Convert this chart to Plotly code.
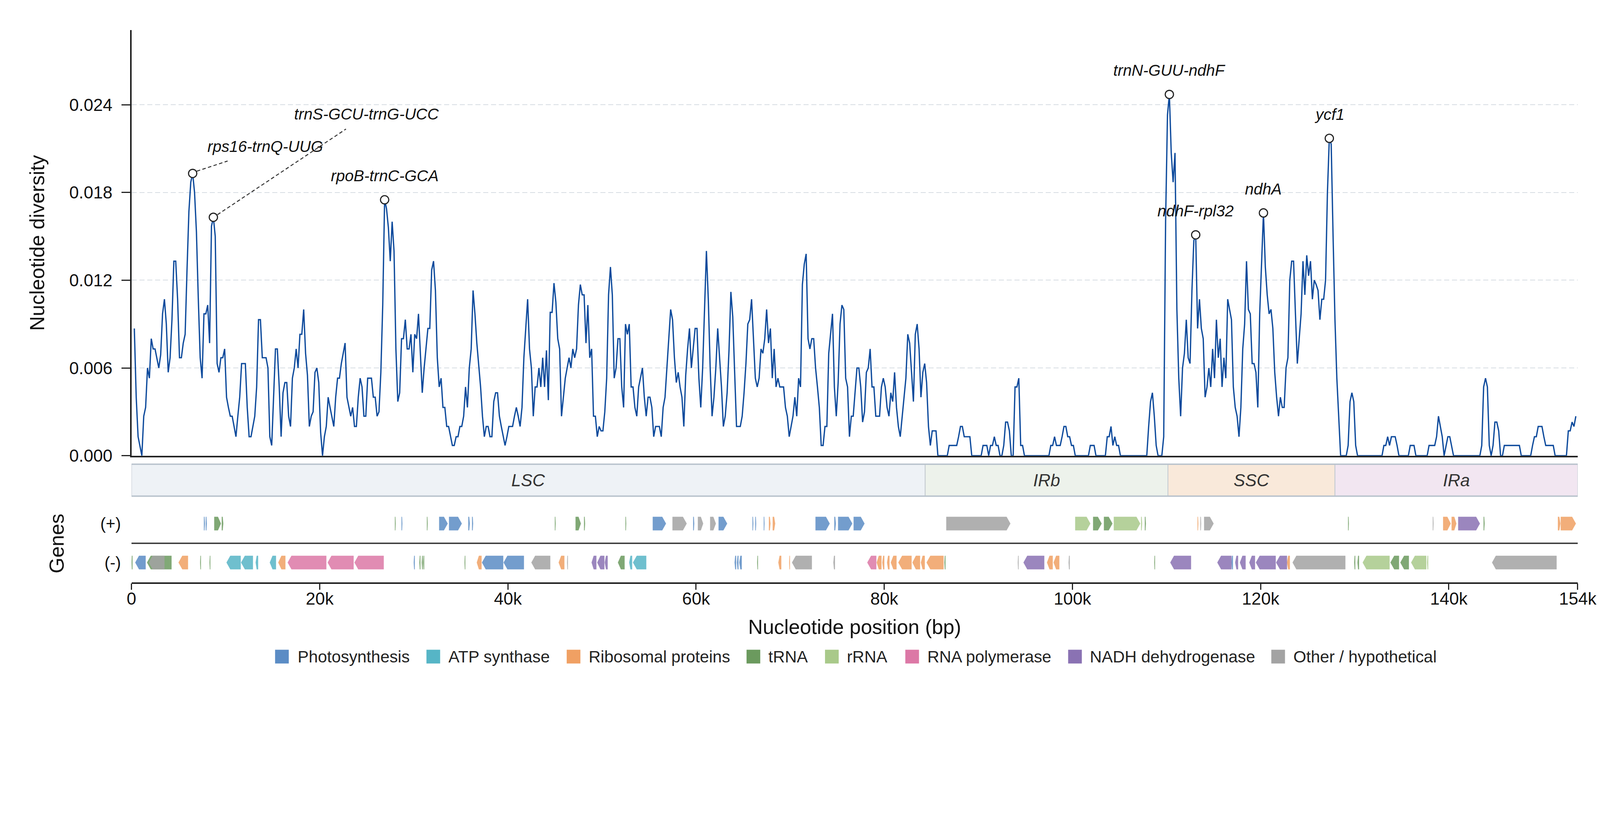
import numpy as np
import plotly.graph_objects as go

# ---- sliding-window nucleotide diversity (window midpoints every 200 bp, first at 300 bp)
genome_length = 153700
first_mid = 300
window_step = 200

pi_values = [
    0.0087, 0.004, 0.0013, 0.0007, 0, 0.0027, 0.0033, 0.006, 0.0053, 0.008,
    0.0073, 0.0073, 0.0067, 0.006, 0.0069, 0.0097, 0.0107, 0.009, 0.0057, 0.0067,
    0.0093, 0.0133, 0.0133, 0.0107, 0.0067, 0.0067, 0.0077, 0.0083, 0.0127, 0.0167,
    0.0187, 0.0193, 0.018, 0.0153, 0.0107, 0.0067, 0.0053, 0.0097, 0.0097, 0.0103,
    0.0077, 0.0157, 0.0163, 0.015, 0.0063, 0.0057, 0.0067, 0.0067, 0.0073, 0.004,
    0.0033, 0.0027, 0.0027, 0.002, 0.0013, 0.0027, 0.004, 0.0063, 0.0063, 0.0063,
    0.0033, 0.0013, 0.0013, 0.002, 0.0027, 0.0047, 0.0093, 0.0093, 0.0067, 0.0067,
    0.0067, 0.006, 0.0013, 0.0007, 0.004, 0.0073, 0.0073, 0.0047, 0.0013, 0.0043,
    0.005, 0.005, 0.0027, 0.002, 0.0053, 0.006, 0.0073, 0.006, 0.0083, 0.0083,
    0.01, 0.007, 0.0055, 0.002, 0.0027, 0.003, 0.0057, 0.006, 0.005, 0.0016,
    0, 0.0013, 0.002, 0.004, 0.0033, 0.0027, 0.002, 0.004, 0.0053, 0.0053,
    0.0063, 0.007, 0.0077, 0.004, 0.0033, 0.0027, 0.0033, 0.002, 0.002, 0.004,
    0.0053, 0.0047, 0.0027, 0.0027, 0.0053, 0.0053, 0.0053, 0.004, 0.004, 0.0027,
    0.003, 0.0057, 0.0103, 0.0175, 0.0169, 0.0156, 0.0133, 0.016, 0.014, 0.0073,
    0.0037, 0.0043, 0.008, 0.008, 0.0093, 0.0073, 0.0073, 0.0083, 0.0057, 0.0083,
    0.008, 0.0097, 0.007, 0.0043, 0.006, 0.0073, 0.0087, 0.0087, 0.0127, 0.0133,
    0.0113, 0.0067, 0.0047, 0.0053, 0.0033, 0.0033, 0.002, 0.002, 0.0013, 0.0007,
    0.0007, 0.0013, 0.0013, 0.002, 0.002, 0.0027, 0.0047, 0.0033, 0.006, 0.0073,
    0.0113, 0.0097, 0.0077, 0.0063, 0.0047, 0.0027, 0.0013, 0.002, 0.002, 0.0013,
    0.0013, 0.0037, 0.0043, 0.0043, 0.0027, 0.002, 0.0013, 0.0007, 0.0013, 0.002,
    0.002, 0.002, 0.0027, 0.0033, 0.0027, 0.002, 0.0033, 0.0067, 0.0087, 0.0107,
    0.0073, 0.006, 0.0027, 0.0047, 0.0047, 0.006, 0.0047, 0.0067, 0.0047, 0.0072,
    0.0038, 0.0098, 0.0098, 0.0118, 0.0105, 0.008, 0.0073, 0.0027, 0.004, 0.0053,
    0.006, 0.0067, 0.006, 0.0073, 0.0067, 0.0073, 0.0103, 0.0117, 0.011, 0.011,
    0.0077, 0.0103, 0.0067, 0.0073, 0.0027, 0.0027, 0.0013, 0.002, 0.0017, 0.0017,
    0.003, 0.0053, 0.011, 0.0129, 0.011, 0.0053, 0.006, 0.008, 0.008, 0.0047,
    0.0033, 0.009, 0.0083, 0.009, 0.0047, 0.0047, 0.0033, 0.0027, 0.0047, 0.0053,
    0.006, 0.004, 0.0027, 0.004, 0.004, 0.0033, 0.0013, 0.002, 0.002, 0.002,
    0.0013, 0.0033, 0.004, 0.006, 0.008, 0.01, 0.0093, 0.0067, 0.005, 0.0057,
    0.0047, 0.004, 0.002, 0.0055, 0.0073, 0.0087, 0.006, 0.0073, 0.0087, 0.0087,
    0.0053, 0.0033, 0.006, 0.01, 0.014, 0.0107, 0.006, 0.0027, 0.004, 0.006,
    0.0087, 0.0067, 0.0047, 0.002, 0.0027, 0.0043, 0.0072, 0.0112, 0.0095, 0.0057,
    0.002, 0.002, 0.002, 0.0027, 0.0043, 0.0063, 0.009, 0.0093, 0.0107, 0.008,
    0.0053, 0.0047, 0.0053, 0.0073, 0.007, 0.008, 0.01, 0.0077, 0.0087, 0.0053,
    0.0073, 0.0047, 0.0053, 0.0047, 0.0047, 0.0047, 0.0033, 0.0027, 0.0013, 0.002,
    0.0027, 0.004, 0.0027, 0.0053, 0.0047, 0.0117, 0.0131, 0.0138, 0.008, 0.0073,
    0.008, 0.008, 0.006, 0.0047, 0.0033, 0.0007, 0.0007, 0.002, 0.002, 0.007,
    0.0083, 0.0097, 0.0047, 0.0027, 0.005, 0.009, 0.0103, 0.01, 0.0053, 0.0047,
    0.0013, 0.0027, 0.0027, 0.0043, 0.006, 0.006, 0.0047, 0.0023, 0.003, 0.0057,
    0.006, 0.0073, 0.0047, 0.0047, 0.0027, 0.0027, 0.0027, 0.0047, 0.0053, 0.0047,
    0.0033, 0.0027, 0.0043, 0.0037, 0.0057, 0.0033, 0.002, 0.0013, 0.0027, 0.004,
    0.0053, 0.0083, 0.0077, 0.0057, 0.0037, 0.0083, 0.009, 0.0073, 0.004, 0.0057,
    0.0063, 0.005, 0.002, 0.0007, 0.0017, 0.0017, 0.0017, 0, 0, 0,
    0, 0, 0, 0.0007, 0.0007, 0.0007, 0.0007, 0.0007, 0.0013, 0.002,
    0.002, 0.0013, 0.0013, 0.0013, 0.0013, 0, 0, 0, 0, 0,
    0, 0.0007, 0.0007, 0.0007, 0, 0.0007, 0.0007, 0.0013, 0.0007, 0.0007,
    0, 0, 0.0007, 0.0023, 0.0023, 0.0017, 0, 0, 0.0047, 0.0047,
    0.0053, 0.0007, 0.0007, 0, 0, 0, 0, 0, 0, 0,
    0, 0, 0, 0, 0, 0, 0, 0.0007, 0.0007, 0.0013,
    0.0007, 0.0007, 0.0007, 0.0013, 0.002, 0.002, 0.0013, 0.0013, 0.0007, 0.0007,
    0, 0, 0, 0, 0, 0, 0, 0, 0.0007, 0.0007,
    0.0007, 0, 0, 0, 0, 0, 0, 0.0013, 0.0013, 0.002,
    0.0007, 0.0013, 0.0007, 0.0007, 0, 0, 0, 0, 0, 0,
    0, 0, 0, 0, 0, 0, 0, 0, 0, 0.002,
    0.0037, 0.0043, 0.0027, 0.0007, 0, 0, 0, 0.0013, 0.016, 0.0233,
    0.0247, 0.0207, 0.0187, 0.0207, 0.01, 0.0053, 0.0027, 0.006, 0.007, 0.0093,
    0.0067, 0.0063, 0.0113, 0.0147, 0.0151, 0.0087, 0.0107, 0.0087, 0.008, 0.004,
    0.0047, 0.006, 0.0047, 0.0073, 0.0053, 0.0093, 0.0067, 0.008, 0.0047, 0.0067,
    0.0053, 0.0107, 0.01, 0.0093, 0.0047, 0.0033, 0.0027, 0.0013, 0.0033, 0.0073,
    0.009, 0.0133, 0.01, 0.0097, 0.0063, 0.0063, 0.0057, 0.0033, 0.0097, 0.0129,
    0.0166, 0.0129, 0.011, 0.0097, 0.01, 0.0087, 0.0057, 0.004, 0.0027, 0.004,
    0.0033, 0.0033, 0.006, 0.0067, 0.012, 0.0133, 0.0133, 0.0097, 0.0063, 0.008,
    0.0097, 0.0133, 0.011, 0.0137, 0.0123, 0.0133, 0.0107, 0.012, 0.0117, 0.0113,
    0.0093, 0.0107, 0.0107, 0.012, 0.018, 0.0217, 0.0213, 0.015, 0.0093, 0.0053,
    0.0027, 0, 0, 0, 0, 0.0007, 0.0037, 0.0043, 0.0037, 0.0007,
    0, 0, 0, 0, 0, 0, 0, 0, 0, 0,
    0, 0, 0, 0, 0.0007, 0.0007, 0.0013, 0.0007, 0.0013, 0.0013,
    0.0013, 0.0007, 0, 0, 0, 0, 0, 0, 0.0007, 0.0007,
    0.0007, 0, 0, 0, 0, 0, 0, 0, 0.0007, 0.0007,
    0.0007, 0.0007, 0.0013, 0.0027, 0.002, 0.0013, 0, 0.0007, 0.0013, 0.0013,
    0.0007, 0, 0, 0, 0, 0, 0, 0, 0, 0,
    0, 0, 0, 0, 0, 0, 0.0007, 0.0047, 0.0053, 0.0047,
    0.0007, 0, 0.0007, 0.0023, 0.0023, 0.0017, 0, 0, 0.0007, 0.0007,
    0.0007, 0.0007, 0.0007, 0.0007, 0.0007, 0.0007, 0.0007, 0, 0, 0,
    0, 0, 0, 0.0007, 0.0013, 0.0013, 0.002, 0.002, 0.002, 0.0013,
    0.0007, 0.0007, 0.0007, 0.0007, 0.0007, 0, 0, 0, 0, 0,
    0, 0, 0.0017, 0.0017, 0.0023, 0.002, 0.0027,
]
positions = first_mid + window_step * np.arange(len(pi_values))

# ---- highlighted hotspots
peak_labels = ["rps16-trnQ-UUG", "trnS-GCU-trnG-UCC", "rpoB-trnC-GCA",
               "trnN-GUU-ndhF", "ndhF-rpl32", "ndhA", "ycf1"]
peak_positions = [6500, 8700, 26900, 110300, 113100, 120300, 127300]

# ---- genome regions
region_names = ["LSC", "IRb", "SSC", "IRa"]
region_starts = [0, 84350, 110150, 127900]
region_ends = [84350, 110150, 127900, 153700]

# ---- genes (start kb, end kb, functional group)
plus_genes = [
    (7.7, 7.8, "photo"), (7.9, 8.0, "photo"), (8.8, 9.5, "trna"), (9.6, 9.75, "trna"),
    (28.0, 28.07, "trna"), (28.7, 28.78, "photo"), (31.4, 31.47, "trna"),
    (32.7, 33.6, "photo"), (33.75, 35.1, "photo"), (35.8, 35.95, "photo"), (36.2, 36.3, "photo"),
    (45.0, 45.07, "trna"), (47.2, 47.75, "trna"), (48.1, 48.2, "trna"), (52.5, 52.57, "trna"),
    (55.4, 56.8, "photo"), (57.5, 59.0, "other"), (59.7, 59.8, "photo"), (60.2, 60.75, "other"),
    (61.5, 62.1, "other"), (62.4, 63.3, "photo"),
    (66.0, 66.08, "photo"), (66.3, 66.38, "photo"), (67.2, 67.27, "photo"),
    (67.75, 67.9, "ribo"), (68.15, 68.4, "ribo"),
    (72.7, 74.2, "photo"), (74.7, 74.85, "photo"), (75.1, 76.6, "photo"), (76.75, 77.9, "photo"),
    (86.6, 93.4, "other"),
    (100.3, 101.9, "rrna"), (102.2, 103.1, "trna"), (103.35, 104.25, "trna"),
    (104.4, 107.2, "rrna"), (107.3, 107.4, "rrna"), (107.7, 107.8, "trna"),
    (113.3, 113.37, "ribo"), (113.6, 113.67, "other"), (114.0, 115.0, "other"),
    (129.3, 129.37, "trna"),
    (138.3, 138.37, "other"), (139.4, 140.2, "ribo"), (140.3, 140.8, "ribo"),
    (141.0, 143.3, "ndh"), (143.7, 143.8, "trna"),
    (151.6, 151.85, "ribo"), (151.9, 153.5, "ribo"),
]
minus_genes = [
    (0.0, 0.1, "trna"), (0.4, 1.5, "photo"), (1.65, 4.25, "trna"), (1.85, 3.5, "other"),
    (5.0, 6.0, "ribo"), (7.3, 7.37, "trna"), (8.3, 8.37, "trna"),
    (10.1, 11.6, "atp"), (11.65, 12.9, "atp"), (13.2, 13.45, "atp"),
    (14.7, 15.35, "atp"), (15.6, 16.35, "ribo"),
    (16.6, 20.7, "rnap"), (20.85, 23.6, "rnap"), (23.7, 26.8, "rnap"),
    (30.0, 30.1, "photo"), (30.6, 30.7, "trna"), (30.85, 30.95, "trna"), (31.0, 31.1, "trna"),
    (35.4, 35.47, "trna"), (36.7, 37.2, "ribo"), (37.25, 39.5, "photo"), (39.55, 41.7, "photo"),
    (42.5, 44.5, "other"), (45.4, 46.0, "ribo"), (46.3, 46.37, "other"),
    (48.9, 49.4, "ndh"), (49.5, 50.25, "ndh"), (50.3, 50.6, "ndh"),
    (51.7, 52.4, "trna"), (52.9, 53.2, "atp"), (53.3, 54.7, "atp"),
    (64.1, 64.25, "photo"), (64.35, 64.5, "photo"), (64.6, 64.85, "photo"),
    (66.5, 66.57, "trna"), (68.75, 69.05, "ribo"), (69.9, 69.97, "ribo"),
    (70.2, 72.3, "other"), (74.6, 74.75, "other"),
    (78.2, 79.15, "rnap"), (79.2, 79.7, "ribo"), (79.8, 80.0, "ribo"), (80.3, 80.55, "ribo"),
    (80.7, 81.3, "ribo"), (81.5, 82.9, "ribo"), (83.0, 83.8, "ribo"), (83.9, 84.3, "ribo"),
    (84.5, 86.3, "ribo"), (86.4, 86.5, "trna"),
    (94.2, 94.27, "other"), (94.8, 97.0, "ndh"), (97.3, 97.9, "ribo"), (98.0, 98.6, "ribo"),
    (99.6, 99.7, "other"), (108.7, 108.77, "trna"), (110.4, 112.6, "ndh"),
    (115.4, 116.9, "ndh"), (116.9, 117.05, "photo"), (117.3, 117.6, "ndh"), (117.8, 118.4, "ndh"),
    (118.8, 119.4, "ndh"), (119.5, 121.6, "ndh"), (121.65, 122.8, "ndh"), (122.8, 123.1, "ribo"),
    (123.4, 129.0, "other"),
    (129.95, 130.05, "trna"), (130.3, 130.45, "trna"), (130.85, 133.7, "rrna"),
    (133.8, 134.7, "trna"), (134.85, 135.75, "trna"), (136.0, 137.6, "rrna"), (137.7, 137.8, "rrna"),
    (144.6, 151.45, "other"),
]

group_keys = ["photo", "atp", "ribo", "trna", "rrna", "rnap", "ndh", "other"]
group_names = ["Photosynthesis", "ATP synthase", "Ribosomal proteins", "tRNA", "rRNA",
               "RNA polymerase", "NADH dehydrogenase", "Other / hypothetical"]
group_colors = ["#5b8cc5", "#56b5c6", "#f0a063", "#6b9a5e", "#a9c98a", "#dc78a6", "#8a72b3", "#a3a3a3"]

# ---- page geometry: positions are measured on the 4322 x 2102 screenshot,
# the page renders slightly zoomed and offset, so map them back
S = 1 / 1.04
OFFX, OFFY = 19, 8
W, H = 4140, 2005


def fx(p):
    return (p * S - OFFX) / W


def fy(p):
    return 1 - (p * S - OFFY) / H


def sz(v):
    return v * S


FONT = "Liberation Sans, Arial, sans-serif"
LINE_BLUE = "#0d4a9c"
AX = "#222222"
ymax = 0.0291

fig = go.Figure()

# diversity curve
fig.add_trace(go.Scatter(x=positions, y=pi_values, mode="lines",
                         line=dict(color=LINE_BLUE, width=3.3),
                         showlegend=False, hoverinfo="skip"))

# hotspot markers
peak_y = [pi_values[(p - first_mid) // window_step] for p in peak_positions]
fig.add_trace(go.Scatter(x=peak_positions, y=peak_y, mode="markers",
                         marker=dict(size=sz(22), color="white", line=dict(color=AX, width=sz(3))),
                         showlegend=False, hoverinfo="skip"))

label_shift = {"rps16-trnQ-UUG": (193, 72), "trnS-GCU-trnG-UCC": (408, 275)}
leaders = {"rps16-trnQ-UUG": (11, 6, 93, 33), "trnS-GCU-trnG-UCC": (11, 7, 353, 235)}
for lab, xp, yp in zip(peak_labels, peak_positions, peak_y):
    dx, dy = label_shift.get(lab, (0, 64))
    fig.add_annotation(x=xp, y=yp, xref="x", yref="y", text="<i>%s</i>" % lab,
                       showarrow=False, xshift=sz(dx), yshift=sz(dy),
                       font=dict(family=FONT, size=sz(42), color="#111"))
    if lab in leaders:
        a, b, c, d = leaders[lab]
        fig.add_shape(type="line", xref="x", yref="y",
                      xsizemode="pixel", ysizemode="pixel",
                      xanchor=xp, yanchor=yp, x0=sz(a), x1=sz(c), y0=sz(b), y1=sz(d),
                      line=dict(color="#333", width=2.5, dash="9px,6px"))

# small cap tick at the top of the y axis
fig.add_shape(type="line", xref="x", yref="y", xsizemode="pixel", xanchor=0,
              x0=-sz(23), x1=0, y0=ymax, y1=ymax, line=dict(color=AX, width=3.5))

# region band
band_y0, band_y1 = fy(1337), fy(1251)
region_fill = ["#eef2f6", "#edf2eb", "#f9e9da", "#f2e6f1"]
for name, s, e, col in zip(region_names, region_starts, region_ends, region_fill):
    fig.add_shape(type="rect", xref="x", yref="paper", x0=s, x1=e, y0=band_y0, y1=band_y1,
                  fillcolor=col, line=dict(color="#c3cad1", width=2), layer="below")
    fig.add_annotation(x=(s + e) / 2, y=(band_y0 + band_y1) / 2, xref="x", yref="paper",
                       text="<i>%s</i>" % name, showarrow=False,
                       font=dict(family=FONT, size=sz(46), color="#333"))
for yy in (band_y0, band_y1):
    fig.add_shape(type="line", xref="x", yref="paper", x0=0, x1=genome_length, y0=yy, y1=yy,
                  line=dict(color="#b8c2cc", width=3.5))

# gene track
half_h = 0.345


def arrow(s, e, yc, strand):
    s, e = s * 1000, e * 1000
    head = min(400, 0.45 * (e - s))
    if strand > 0:
        xs = [s, e - head, e, e - head, s, s]
    else:
        xs = [e, s + head, s, s + head, e, e]
    ys = [yc - half_h, yc - half_h, yc, yc + half_h, yc + half_h, yc - half_h]
    return xs, ys


for key, col in zip(group_keys, group_colors):
    gx, gy = [], []
    for genes, yc, strand in ((plus_genes, 1, 1), (minus_genes, -1, -1)):
        for s, e, g in genes:
            if g != key:
                continue
            xs, ys = arrow(s, e, yc, strand)
            gx += xs + [None]
            gy += ys + [None]
    fig.add_trace(go.Scatter(x=gx, y=gy, xaxis="x2", yaxis="y2", mode="lines",
                             fill="toself", fillcolor=col, opacity=0.85,
                             line=dict(width=0.5, color=col),
                             showlegend=False, hoverinfo="skip"))

fig.add_shape(type="line", xref="x2 domain", yref="y2", x0=0, x1=1, y0=-0.01, y1=-0.01,
              line=dict(color="#333", width=3.5))

# legend (drawn by hand for large swatches)
sw_left = [742, 1151, 1530, 2016, 2228, 2445, 2885, 3434]
txt_left = [801, 1208, 1587, 2073, 2285, 2502, 2942, 3491]
for name, col, sl, tl in zip(group_names, group_colors, sw_left, txt_left):
    fig.add_shape(type="rect", xref="paper", yref="paper", x0=fx(sl), x1=fx(sl + 37),
                  y0=fy(1788), y1=fy(1751), fillcolor=col, line=dict(width=0))
    fig.add_annotation(x=fx(tl), y=fy(1770), xref="paper", yref="paper", text=name,
                       showarrow=False, xanchor="left", yanchor="middle",
                       font=dict(family=FONT, size=sz(44), color="#222"))

yt = [0, 0.006, 0.012, 0.018, 0.024]
xt = [0, 20000, 40000, 60000, 80000, 100000, 120000, 140000, genome_length]
xt_text = ["0", "20k", "40k", "60k", "80k", "100k", "120k", "140k", "154k"]

fig.update_layout(
    width=W, height=H, margin=dict(l=0, r=0, t=0, b=0),
    paper_bgcolor="white", plot_bgcolor="white",
    font=dict(family=FONT, size=sz(46), color="#111"),
    showlegend=False,
    xaxis=dict(domain=[fx(354), fx(4262)], range=[0, genome_length], anchor="y",
               showline=True, linecolor=AX, linewidth=3.5, ticks="",
               showticklabels=False, showgrid=False, zeroline=False),
    yaxis=dict(domain=[fy(1228), fy(81)], range=[0, ymax], anchor="x",
               showline=True, linecolor=AX, linewidth=3.5,
               ticks="outside", ticklen=sz(23), tickwidth=3, tickcolor=AX,
               tickvals=yt, ticktext=["%.3f" % v for v in yt],
               tickfont=dict(size=sz(46), color="#111"), ticklabelstandoff=14,
               showgrid=True, gridcolor="#d7dde3", gridwidth=2, griddash="13px,7px",
               zeroline=False,
               title=dict(text="Nucleotide diversity", font=dict(size=sz(54), color="#111"),
                          standoff=48)),
    xaxis2=dict(domain=[fx(354), fx(4262)], range=[0, genome_length], anchor="y2",
                showline=True, linecolor=AX, linewidth=3.5,
                ticks="outside", ticklen=sz(16), tickwidth=3, tickcolor=AX,
                tickvals=xt, ticktext=xt_text, tickfont=dict(size=sz(46), color="#111"),
                ticklabelstandoff=-15,
                showgrid=False, zeroline=False,
                title=dict(text="Nucleotide position (bp)", font=dict(size=sz(54), color="#111"),
                           standoff=32)),
    yaxis2=dict(domain=[fy(1569), fy(1360)], range=[-2.01, 1.97], anchor="x2",
                showline=False, ticks="", tickvals=[1, -1], ticktext=["(+)", "(-)"],
                tickfont=dict(size=sz(44), color="#111"), ticklabelstandoff=26,
                showgrid=False, zeroline=False,
                title=dict(text="Genes", font=dict(size=sz(54), color="#111"), standoff=76)),
)

fig.write_html("out.html")
